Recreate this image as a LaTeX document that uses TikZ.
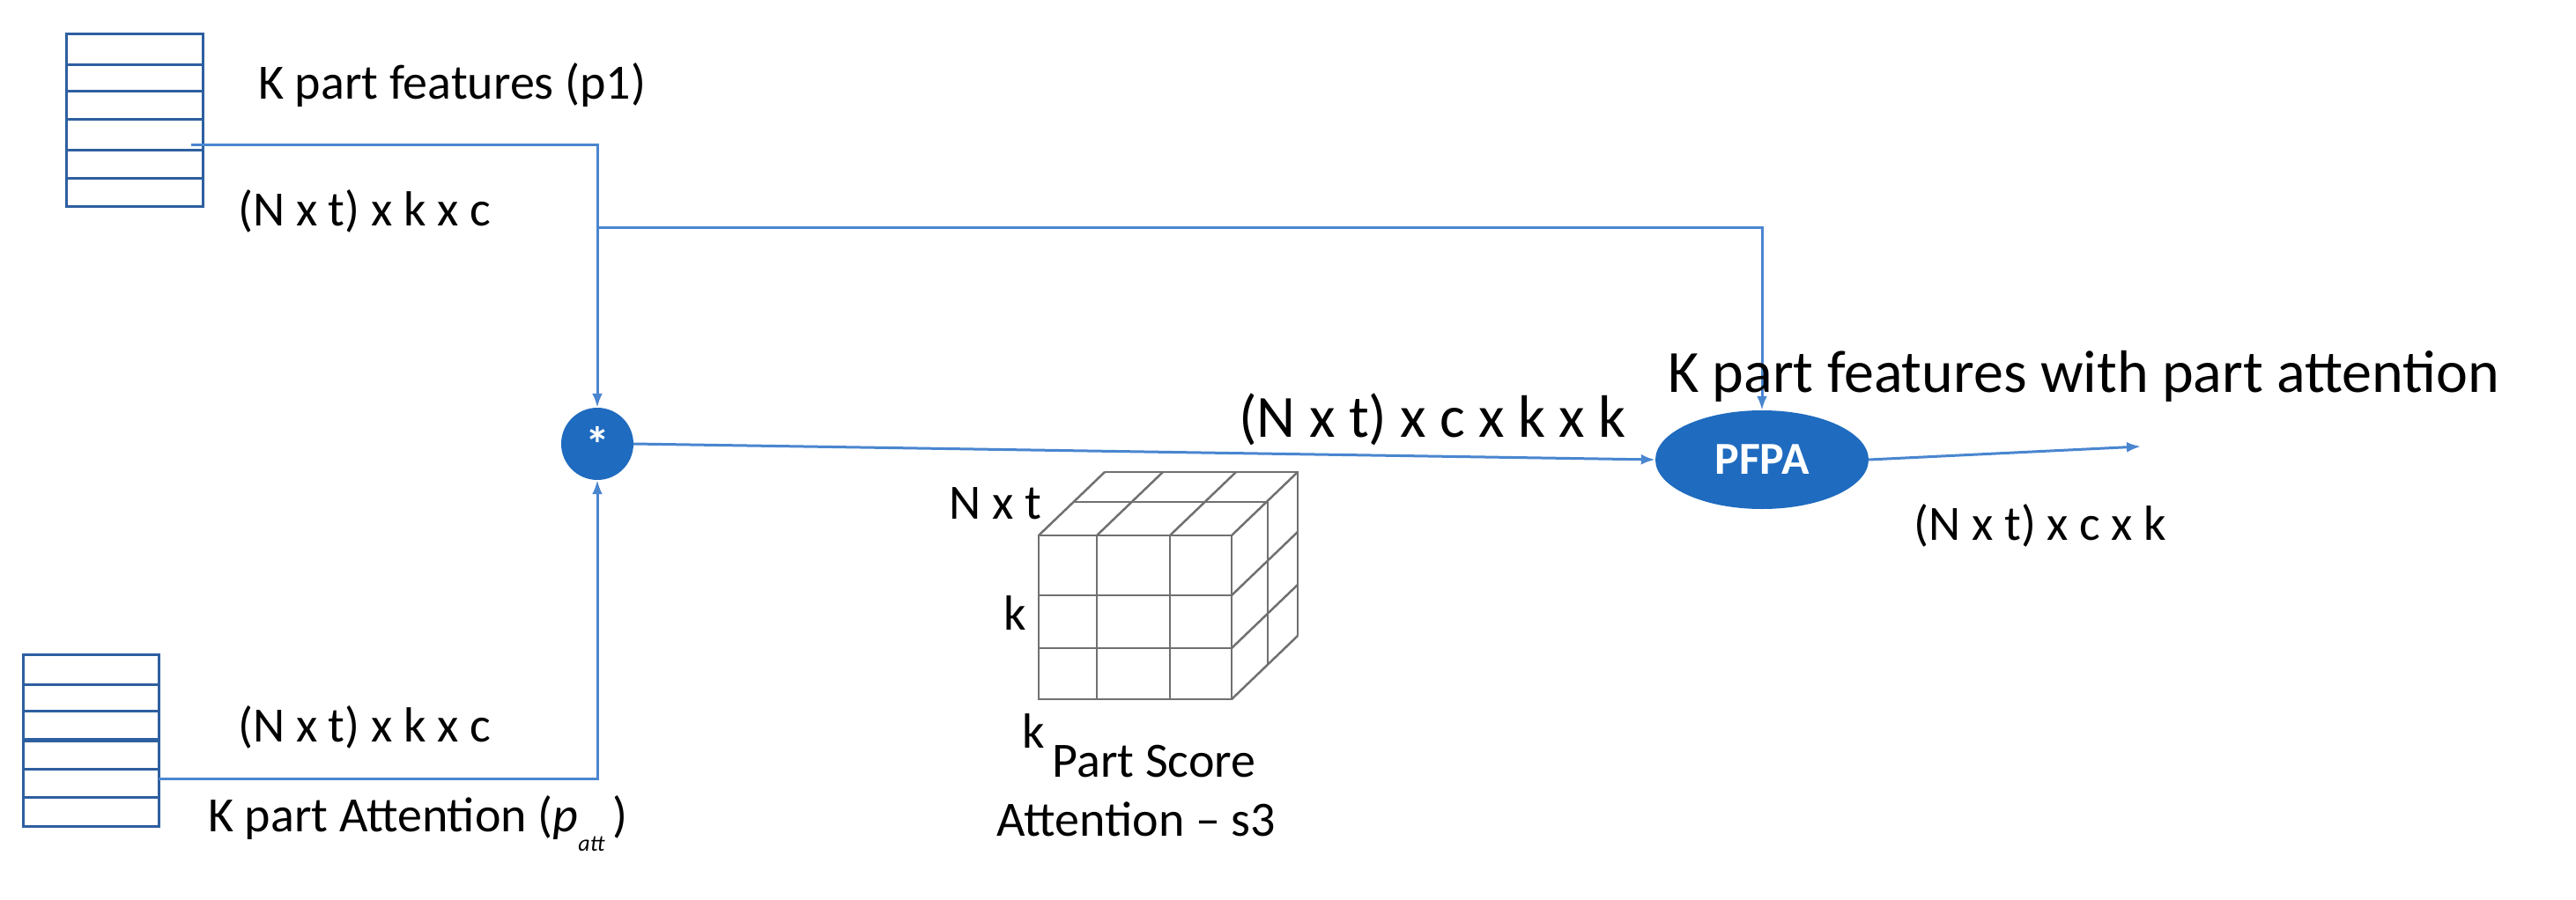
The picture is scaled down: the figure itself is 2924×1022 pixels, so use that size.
\documentclass[tikz,border=0pt]{standalone}
\usepackage{fontspec}
\setmainfont{Carlito}
\usetikzlibrary{shapes.geometric,arrows.meta}
\definecolor{ln}{HTML}{4A86D0}
\definecolor{stk}{HTML}{2E5FA0}
\definecolor{nodeblue}{HTML}{1F6BBF}
\definecolor{grd}{HTML}{707070}
\begin{document}
\begin{tikzpicture}[x=1pt,y=-1pt,
  conn/.style={ln,line width=3pt},
  arr/.style={conn,-{Latex[length=16pt,width=12pt]}},
  stack/.style={stk,line width=3pt},
  lbl/.style={font=\fontsize{56}{64}\selectfont,inner sep=0pt},
  big/.style={font=\fontsize{68}{76}\selectfont,inner sep=0pt},
  grid/.style={grd,line width=2.5pt}]
\useasboundingbox (0,0) rectangle (2924,1022);
% top stack
\draw[stack] (75,39) rectangle (230,234);
\foreach \y in {74,104,136,171,202} \draw[stack] (75,\y) -- (230,\y);
% bottom stack
\draw[stack] (26,743) rectangle (180,938);
\foreach \y in {777,807,873,905} \draw[stack] (26,\y) -- (180,\y);
\draw[stk,line width=5pt] (26,840) -- (180,840);
% nodes
\node[circle,fill=nodeblue,minimum size=82pt,inner sep=0pt,text=white,font=\fontsize{56}{60}\selectfont\bfseries] (mul) at (678,504) {*};
\node[ellipse,fill=nodeblue,minimum width=242pt,minimum height=112pt,inner sep=0pt,text=white,font=\fontsize{52}{60}\selectfont\bfseries] (pfpa) at (2000,522) {PFPA};
\coordinate (s1) at (217,165);
\coordinate (s2) at (180,884);
\coordinate (br) at (678,258);
\coordinate (out) at (2430,507);
% connectors
\draw[conn] (s1) -- (678,165) -- (br);
\draw[arr] (br) -- (mul.north);
\draw[arr] (br) -- (2000,258) -- (pfpa.north);
\draw[arr] (s2) -- (678,884) -- (mul.south);
\draw[arr] (mul.east) -- (pfpa.west);
\draw[arr] (pfpa.east) -- (out);
% labels
\node[lbl,anchor=west] (t1) at (293,97) {K part features (p1)};
\node[lbl,anchor=west] (t2) at (270,240) {(N x t) x k x c};
\node[lbl,anchor=west] (t3) at (270,826) {(N x t) x k x c};
\node[lbl,anchor=west] (t4) at (236,935) {K part Attention ({\itshape p}\raisebox{-22pt}{\fontsize{26}{28}\selectfont\itshape att}\,)};
\node[big] (t5) at (1626,476) {(N x t) x c x k x k};
\node[big,anchor=west] (t6) at (1893,427) {K part features with part attention};
\node[lbl] (t7) at (2316,597) {(N x t) x c x k};
% cube
\draw[grid] (1179,608) rectangle (1398,794);
\foreach \x in {1245,1328} \draw[grid] (\x,608) -- (\x,794) ;
\foreach \y in {676,736} \draw[grid] (1179,\y) -- (1398,\y);
\foreach \x in {1179,1245,1328,1398} \draw[grid] (\x,608) -- ++(75,-72);
\draw[grid] (1220,570) -- (1439,570) -- (1439,756);
\draw[grid] (1254,536) -- (1473,536) -- (1473,722);
\foreach \y in {676,736,794} \draw[grid] (1398,\y) -- ++(75,-72);
\node[lbl] (c1) at (1130,572) {N x t};
\node[lbl] (c2) at (1152,696) {k};
\node[lbl] (c3) at (1173,830) {k};
\node[lbl] (c4) at (1310,865) {Part Score};
\node[lbl] (c5) at (1290,930) {Attention -- s3};
\end{tikzpicture}
\end{document}
